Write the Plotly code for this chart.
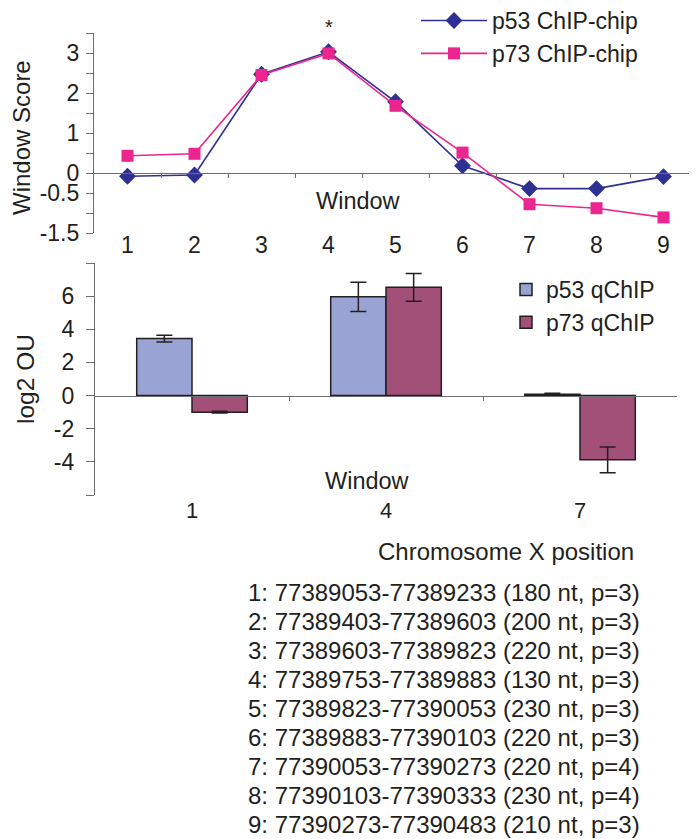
import plotly.graph_objects as go

# ---------------- data ----------------
windows = [1, 2, 3, 4, 5, 6, 7, 8, 9]
p53_chip = [-0.08, -0.05, 2.47, 3.03, 1.78, 0.18, -0.39, -0.39, -0.09]
p73_chip = [0.43, 0.48, 2.45, 2.99, 1.68, 0.51, -0.78, -0.88, -1.11]

top_ytickvals = [-1.5, -1.0, -0.5, 0, 0.5, 1.0, 1.5, 2.0, 2.5, 3.0, 3.5]
top_yticktext = ["-1.5", "", "-0.5", "0", "", "1", "", "2", "", "3", ""]

q_windows = ["1", "4", "7"]
p53_q = [3.44, 5.96, 0.08]
p53_q_err = [0.2, 0.88, 0.06]
p73_q = [-1.0, 6.53, -3.88]
p73_q_err = [0.05, 0.84, 0.78]

bot_ytickvals = [-6, -4, -2, 0, 2, 4, 6, 8]
bot_yticktext = ["", "-4", "-2", "0", "2", "4", "6", ""]

window_coords = [
    "1: 77389053-77389233 (180 nt, p=3)",
    "2: 77389403-77389603 (200 nt, p=3)",
    "3: 77389603-77389823 (220 nt, p=3)",
    "4: 77389753-77389883 (130 nt, p=3)",
    "5: 77389823-77390053 (230 nt, p=3)",
    "6: 77389883-77390103 (220 nt, p=3)",
    "7: 77390053-77390273 (220 nt, p=4)",
    "8: 77390103-77390333 (230 nt, p=4)",
    "9: 77390273-77390483 (210 nt, p=3)",
]

# ---------------- layout helpers ----------------
# the page body has an 8px margin, so the figure is drawn 8px in from the
# window's top-left corner; the figure is sized to fill the rest of it.
OFF = 8
W, H = 697 - OFF, 839 - OFF
FONT = "Arial, Liberation Sans, sans-serif"
TXT = "#231F20"
AX = "#6D6E71"


def px(x):
    return (x - OFF) / W


def py(y):
    return 1 - (y - OFF) / H


top_dom_y = [py(233), py(33)]
top_dom_x = [px(94), 1.0]
bot_dom_y = [py(495), py(263)]
bot_dom_x = [px(95), px(677)]

top_range = [-1.5, 3.5]
bot_range = [-6, 8]


def zero_pos(dom, rng):
    return dom[0] + (0 - rng[0]) / (rng[1] - rng[0]) * (dom[1] - dom[0])


fig = go.Figure()

# ---------------- top chart ----------------
fig.add_trace(go.Scatter(
    x=windows, y=p53_chip, name="p53 ChIP-chip", mode="lines+markers",
    line=dict(color="#2E3192", width=1.6),
    marker=dict(symbol="diamond", size=13, color="#2E3192"),
    xaxis="x", yaxis="y", legend="legend",
))
fig.add_trace(go.Scatter(
    x=windows, y=p73_chip, name="p73 ChIP-chip", mode="lines+markers",
    line=dict(color="#EC258F", width=1.6),
    marker=dict(symbol="square", size=12, color="#EC258F"),
    xaxis="x", yaxis="y", legend="legend",
))
# invisible trace to carry the zero-line axis
fig.add_trace(go.Scatter(
    x=windows, y=p53_chip, mode="markers", marker=dict(opacity=0),
    xaxis="x2", yaxis="y", showlegend=False, hoverinfo="skip",
))

# ---------------- bottom chart ----------------
fig.add_trace(go.Bar(
    x=q_windows, y=p53_q, name="p53 qChIP",
    marker=dict(color="#99A4D4", line=dict(color=TXT, width=1.5)),
    error_y=dict(type="data", array=p53_q_err, color=TXT, thickness=1.5, width=8),
    xaxis="x3", yaxis="y3", legend="legend2",
))
fig.add_trace(go.Bar(
    x=q_windows, y=p73_q, name="p73 qChIP",
    marker=dict(color="#A25078", line=dict(color=TXT, width=1.5)),
    error_y=dict(type="data", array=p73_q_err, color=TXT, thickness=1.5, width=8),
    xaxis="x3", yaxis="y3", legend="legend2",
))
fig.add_trace(go.Scatter(
    x=list(range(len(q_windows))), y=p53_q, mode="markers", marker=dict(opacity=0),
    xaxis="x4", yaxis="y3", showlegend=False, hoverinfo="skip",
))

boundaries_top = [w + 0.5 for w in windows]
boundaries_bot = [i + 0.5 for i in range(len(q_windows) - 1)]

fig.update_layout(
    width=W, height=H,
    margin=dict(l=0, r=0, t=0, b=0, autoexpand=False),
    paper_bgcolor="white", plot_bgcolor="white",
    font=dict(family=FONT, size=24, color=TXT),
    barmode="group", bargap=0.43, bargroupgap=0,
    xaxis=dict(
        domain=top_dom_x, range=[0.5, 9.5], tickvals=windows,
        showline=False, ticks="", showgrid=False, zeroline=False,
        anchor="free", position=py(229), tickfont=dict(size=23),
    ),
    xaxis2=dict(
        domain=top_dom_x, range=[0.5, 9.5], overlaying="x",
        anchor="free", position=zero_pos(top_dom_y, top_range),
        tickvals=boundaries_top, ticks="outside", ticklen=4, tickcolor=AX,
        showticklabels=False, showline=True, linecolor=AX, linewidth=1.2,
        showgrid=False, zeroline=False,
    ),
    yaxis=dict(
        domain=top_dom_y, range=top_range, tickvals=top_ytickvals,
        ticktext=top_yticktext, ticks="outside", ticklen=7, tickcolor=AX,
        showline=True, linecolor=AX, linewidth=1.2, showgrid=False,
        zeroline=False, anchor="x", tickfont=dict(size=23),
        ticklabelstandoff=2,
    ),
    xaxis3=dict(
        domain=bot_dom_x, range=[-0.5, 2.5], type="category",
        showline=False, ticks="", showgrid=False, zeroline=False,
        anchor="y3", tickfont=dict(size=22),
    ),
    xaxis4=dict(
        domain=bot_dom_x, range=[-0.5, 2.5], overlaying="x3",
        anchor="free", position=zero_pos(bot_dom_y, bot_range),
        tickvals=boundaries_bot, ticks="outside", ticklen=4, tickcolor=AX,
        showticklabels=False, showline=True, linecolor=AX, linewidth=1.2,
        showgrid=False, zeroline=False,
    ),
    yaxis3=dict(
        domain=bot_dom_y, range=bot_range, tickvals=bot_ytickvals,
        ticktext=bot_yticktext, ticks="outside", ticklen=8, tickcolor=AX,
        showline=True, linecolor=AX, linewidth=1.2, showgrid=False,
        zeroline=False, anchor="x3", tickfont=dict(size=23),
        ticklabelstandoff=7,
    ),
    legend=dict(
        x=px(416), y=py(-1), xanchor="left", yanchor="top",
        bgcolor="rgba(0,0,0,0)", font=dict(size=23), itemwidth=66,
        tracegroupgap=0,
    ),
    legend2=dict(
        x=px(506), y=py(268), xanchor="left", yanchor="top",
        bgcolor="rgba(0,0,0,0)", font=dict(size=23), tracegroupgap=0,
    ),
    showlegend=True,
)


def note(text, x, y, size=24, **kw):
    d = dict(text=text, x=x, y=y, xref="paper", yref="paper",
             xanchor="center", yanchor="middle", showarrow=False,
             font=dict(size=size))
    d.update(kw)
    return d


annotations = [
    note("*", 4, py(27), size=20, xref="x"),
    note("Window", px(358), py(201), size=23.5),
    note("Window", px(367), py(481), size=23.5),
    note("Window Score", px(22), py(138), size=24, textangle=-90),
    note("log2 OU", px(25), py(379), size=24.5, textangle=-90),
    note("Chromosome X position", px(506), py(551), size=24),
]
for i, line in enumerate(window_coords):
    annotations.append(note(line, px(246), py(592 + 29 * i), size=24,
                            xanchor="left"))
fig.update_layout(annotations=annotations)

fig.write_html("out.html")
